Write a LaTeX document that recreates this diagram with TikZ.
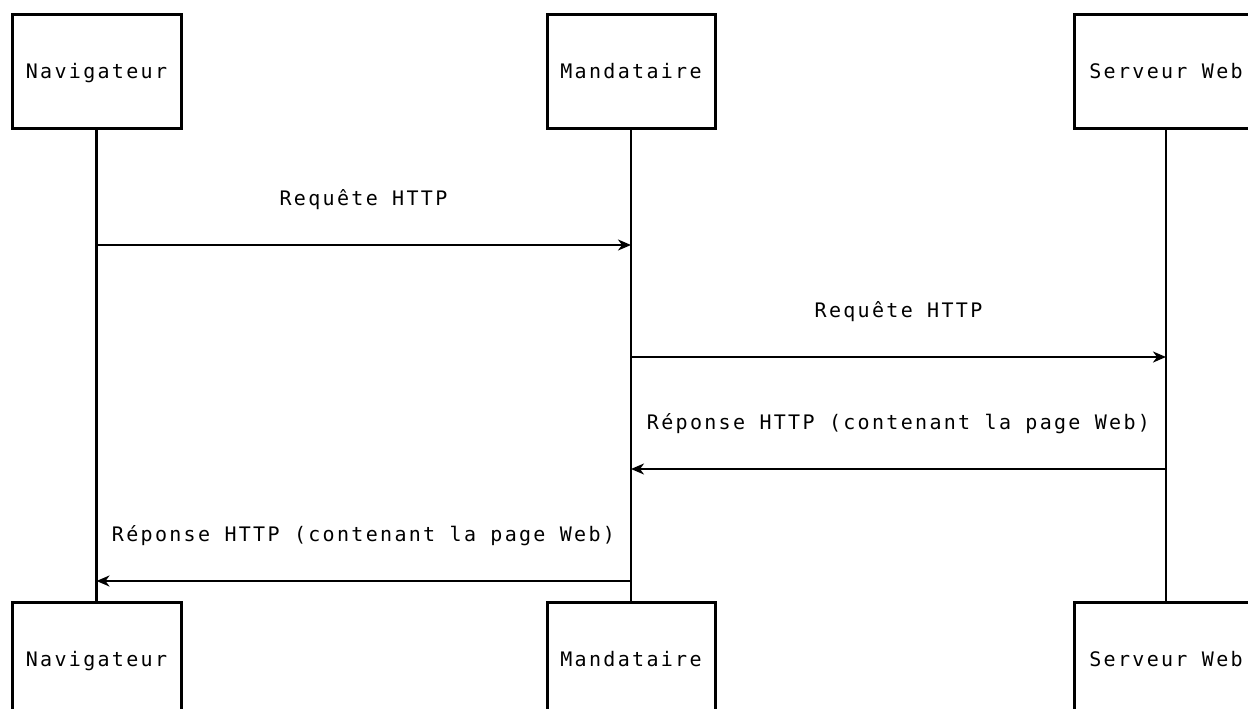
\documentclass[tikz,border=0pt]{standalone}
\usepackage{fontspec}
\newfontfamily\monof{DejaVu Sans Mono}[LetterSpace=11.6]
\usetikzlibrary{arrows.meta}
\begin{document}
\begin{tikzpicture}[x=1pt,y=-1pt,
  actor/.style={draw,line width=3pt,minimum height=113pt,inner sep=0pt,
    font=\monof\fontsize{20}{24}\selectfont,text height=15pt,text depth=0pt},
  life/.style={line width=2.4pt},
  msg/.style={line width=2.8pt,-{Stealth[length=13pt,width=11pt,inset=4pt]}},
  lbl/.style={font=\monof\fontsize{20}{24}\selectfont,anchor=base,inner sep=0pt}]
\useasboundingbox (0,0) rectangle (1248,709);
% top actors
\node[actor,minimum width=169pt] (navT) at (96.5,71.5) {Navigateur};
\node[actor,minimum width=168pt] (manT) at (631,71.5) {Mandataire};
\node[actor,minimum width=184pt] (webT) at (1166,71.5) {Serveur Web};
% bottom actors
\node[actor,minimum width=169pt] (navB) at (96.5,658.5) {Navigateur};
\node[actor,minimum width=168pt] (manB) at (631,658.5) {Mandataire};
\node[actor,minimum width=184pt] (webB) at (1166,658.5) {Serveur Web};
% lifelines
\draw[life] (navT) -- (navB);
\draw[life] (manT) -- (manB);
\draw[life] (webT) -- (webB);
% message anchor points
\coordinate (n1) at (96.5,245);
\coordinate (m1) at (631,245);
\coordinate (m2) at (631,357);
\coordinate (w2) at (1166,357);
\coordinate (w3) at (1166,469);
\coordinate (m3) at (631,469);
\coordinate (m4) at (631,581);
\coordinate (n4) at (96.5,581);
% messages
\draw[msg] (n1) -- (m1);
\node[lbl] (l1) at (363.5,205) {Requête HTTP};
\draw[msg] (m2) -- (w2);
\node[lbl] (l2) at (898.5,317) {Requête HTTP};
\draw[msg] (w3) -- (m3);
\node[lbl] (l3) at (898.5,429) {Réponse HTTP (contenant la page Web)};
\draw[msg] (m4) -- (n4);
\node[lbl] (l4) at (363.5,541) {Réponse HTTP (contenant la page Web)};
\end{tikzpicture}
\end{document}
